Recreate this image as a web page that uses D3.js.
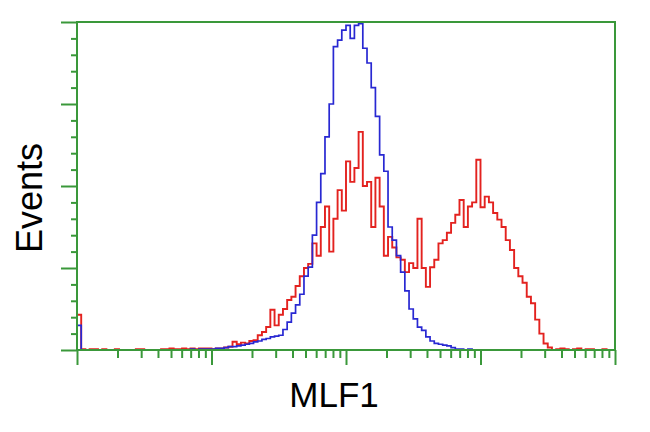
<!DOCTYPE html>
<html>
<head>
<meta charset="utf-8">
<script src="https://cdn.jsdelivr.net/npm/d3@7"></script>
<style>
  html, body { margin: 0; padding: 0; background: #fff; }
  svg { display: block; }
</style>
</head>
<body>
<script>
// ---- Data ----
// 128 log-spaced channels spanning 4 decades (10^0 .. 10^4)
const channelCount = 128;
const decades = [1, 10, 100, 1000, 10000];
const yTicks = [0, 100, 200, 300, 400];
const xLabel = "MLF1";
const yLabel = "Events";

// Control (blue) histogram counts per channel
const blueCounts = [
  30, 0, 0, 0, 0, 0, 0, 0, 0, 0, 0, 0, 0, 0, 0, 0,
  0, 0, 0, 0, 0, 0, 0, 0, 0, 0, 0, 1, 0, 1, 1, 1,
  1, 2, 2, 3, 4, 4, 5, 6, 7, 8, 10, 11, 13, 14, 16, 17,
  18, 25, 34, 45, 55, 68, 90, 101, 140, 180, 215, 260, 300, 370, 378, 390,
  396, 380, 396, 398, 368, 350, 320, 285, 238, 218, 150, 134, 115, 95, 72, 50,
  38, 28, 24, 16, 11, 8, 7, 6, 5, 3, 1, 1, 0, 1, 0, 0,
  0, 0, 0, 0, 0, 0, 0, 0, 0, 0, 0, 0, 0, 0, 0, 0,
  0, 0, 0, 0, 0, 0, 0, 0, 0, 0, 0, 0, 0, 0, 0, 0
];

// Transfected (red) histogram counts per channel
const redCounts = [
  43, 1, 0, 1, 1, 0, 1, 0, 0, 1, 0, 0, 0, 0, 1, 1,
  0, 0, 0, 0, 1, 1, 2, 1, 1, 2, 1, 2, 1, 2, 2, 2,
  1, 2, 2, 3, 4, 10, 7, 9, 8, 11, 12, 18, 22, 28, 49, 30,
  43, 50, 61, 65, 78, 90, 100, 105, 130, 115, 150, 175, 120, 160, 195, 170,
  230, 205, 222, 266, 200, 205, 150, 210, 175, 115, 138, 125, 113, 110, 95, 106,
  100, 160, 100, 77, 101, 110, 130, 134, 143, 155, 165, 183, 150, 175, 180, 232,
  174, 187, 180, 167, 159, 150, 134, 122, 100, 90, 82, 65, 57, 37, 20, 8,
  3, 0, 1, 2, 1, 0, 1, 2, 0, 1, 1, 0, 0, 1, 0, 0
];

// ---- Layout ----
const W = 650, H = 432;
const mLeft = 77, mRight = 615, mTop = 22, mBottom = 350;
const green = "#3a983a";

const svg = d3.select("body").append("svg")
  .attr("width", W).attr("height", H);

const x = d3.scaleLog().domain([decades[0], decades[decades.length - 1]]).range([mLeft, mRight]);
const y = d3.scaleLinear().domain([yTicks[0], yTicks[yTicks.length - 1]]).range([mBottom, mTop]);

// channel edge value (log spaced)
const lo = Math.log10(decades[0]), hi = Math.log10(decades[decades.length - 1]);
const edge = i => Math.pow(10, lo + (hi - lo) * i / channelCount);

function stepPoints(counts) {
  const pts = counts.map((c, i) => [edge(i), c]);
  pts.push([edge(counts.length), counts[counts.length - 1]]);
  return pts;
}

const line = d3.line()
  .x(d => x(d[0]))
  .y(d => y(d[1]))
  .curve(d3.curveStepAfter);

svg.append("clipPath").attr("id", "clip")
  .append("rect").attr("x", mLeft).attr("y", mTop - 1)
  .attr("width", mRight - mLeft).attr("height", mBottom - mTop + 1);

const plot = svg.append("g").attr("clip-path", "url(#clip)");

plot.append("path")
  .datum(stepPoints(redCounts))
  .attr("d", line)
  .attr("fill", "none")
  .attr("stroke", "#e3221f")
  .attr("stroke-width", 1.9);

plot.append("path")
  .datum(stepPoints(blueCounts))
  .attr("d", line)
  .attr("fill", "none")
  .attr("stroke", "#2828d2")
  .attr("stroke-width", 1.7);

// ---- Axes ----
const minorX = [];
for (let d = 0; d < decades.length - 1; d++) {
  for (let m = 2; m <= 9; m++) minorX.push(decades[d] * m);
}
const minorY = [];
for (let v = yTicks[0]; v <= yTicks[yTicks.length - 1]; v += 20) {
  if (!yTicks.includes(v)) minorY.push(v);
}

function styleAxis(g) {
  g.select(".domain").remove();
  g.selectAll("line").attr("stroke", green).attr("stroke-width", 2);
  g.selectAll("text").remove();
}

svg.append("g").attr("transform", `translate(0,${mBottom})`)
  .call(d3.axisBottom(x).tickValues(minorX).tickSize(8).tickFormat(""))
  .call(styleAxis);
svg.append("g").attr("transform", `translate(0,${mBottom})`)
  .call(d3.axisBottom(x).tickValues(decades).tickSize(15).tickFormat(""))
  .call(styleAxis);

svg.append("g").attr("transform", `translate(${mLeft},0)`)
  .call(d3.axisLeft(y).tickValues(minorY).tickSize(6).tickFormat(""))
  .call(styleAxis);
svg.append("g").attr("transform", `translate(${mLeft},0)`)
  .call(d3.axisLeft(y).tickValues(yTicks).tickSize(16).tickFormat(""))
  .call(styleAxis);

// Frame
svg.append("rect")
  .attr("x", mLeft).attr("y", mTop)
  .attr("width", mRight - mLeft).attr("height", mBottom - mTop)
  .attr("fill", "none").attr("stroke", green).attr("stroke-width", 2);

// ---- Labels ----
svg.append("text")
  .attr("x", 334).attr("y", 407)
  .attr("text-anchor", "middle")
  .attr("font-family", "'Liberation Sans', Arial, sans-serif")
  .attr("font-size", 35)
  .attr("fill", "#000")
  .text(xLabel);

svg.append("text")
  .attr("transform", "translate(42,198) rotate(-90)")
  .attr("text-anchor", "middle")
  .attr("font-family", "'Liberation Sans', Arial, sans-serif")
  .attr("font-size", 36)
  .attr("fill", "#000")
  .text(yLabel);
</script>
</body>
</html>
